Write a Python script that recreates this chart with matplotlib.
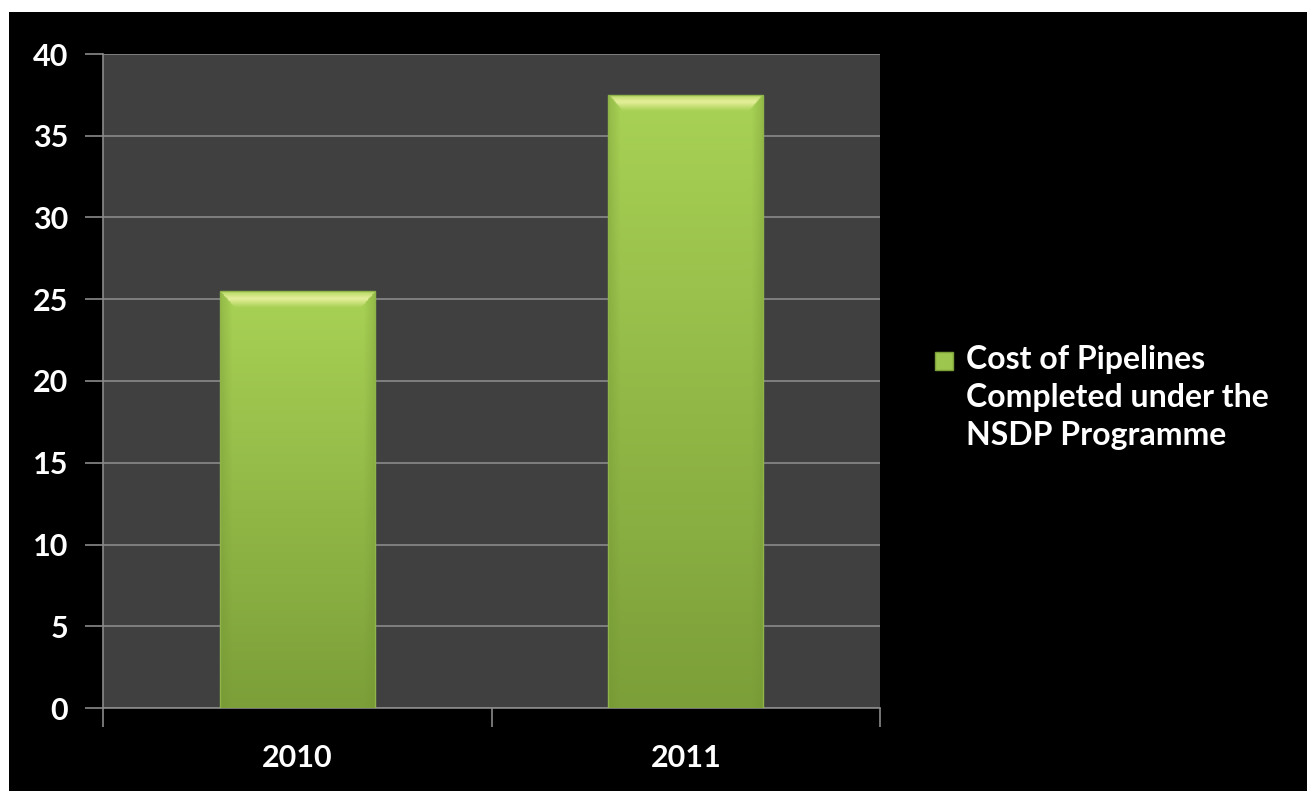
import numpy as np
import matplotlib.pyplot as plt
from matplotlib.patches import Rectangle
from matplotlib.colors import to_rgb

# data
years = ['2010', '2011']
cost = [25.5, 37.5]
legend_label = 'Cost of Pipelines\nCompleted under the\nNSDP Programme'
yticks = [0, 5, 10, 15, 20, 25, 30, 35, 40]

plt.rcParams['font.family'] = ['Lato', 'DejaVu Sans']
plt.rcParams['font.weight'] = 'bold'

W, H = 1307, 791
fig = plt.figure(figsize=(W / 100, H / 100), dpi=100, facecolor='black')

# white border at top/left like the original screenshot
fig.patches.append(Rectangle((0, 1 - 12 / H), 1, 12 / H, transform=fig.transFigure,
                             facecolor='white', edgecolor='none', zorder=-5))
fig.patches.append(Rectangle((0, 0), 9 / W, 1, transform=fig.transFigure,
                             facecolor='white', edgecolor='none', zorder=-5))

ax = fig.add_axes([103 / W, 1 - 708 / H, (880 - 103) / W, (708 - 54) / H])
ax.set_facecolor('#404040')

x = np.arange(len(years))
bar_w = 0.4
bars = ax.bar(x, cost, width=bar_w, color='none', edgecolor='none', zorder=3)

# gradient fill with bevel, clipped to each bar
top_c = np.array(to_rgb('#a8d255'))
bot_c = np.array(to_rgb('#7c9f39'))
hi_c = np.array(to_rgb('#f2f5a8'))
edge_c = np.array(to_rgb('#6f9130'))
px_per_unit = (708 - 54) / 40
bar_px_w = bar_w * (880 - 103) / 2
for b, v in zip(bars, cost):
    hp = v * px_per_unit
    ny, nx = 400, 120
    yy = np.linspace(1, 0, ny)[:, None] * np.ones((1, nx))   # 1 at top
    xx = np.ones((ny, 1)) * np.linspace(0, 1, nx)[None, :]
    img = bot_c + (top_c - bot_c) * yy[..., None]
    # top bevel highlight (triangle-cornered band)
    dtop = (1 - yy) * hp
    dside = np.minimum(xx, 1 - xx) * bar_px_w
    band = (dtop < 16) & (dside > dtop * 0.9)
    prof = np.clip(1 - np.abs(dtop - 7) / 9, 0, 1)
    img = img + (hi_c - img) * (0.85 * prof * band)[..., None]
    # side darkening
    sd = np.clip(1 - dside / 12, 0, 1)
    img = img + (edge_c - img) * (0.35 * sd * ~band)[..., None]
    img = np.clip(img, 0, 1)
    x0 = b.get_x()
    im = ax.imshow(img, extent=[x0, x0 + bar_w, 0, v], aspect='auto', zorder=3,
                   interpolation='bilinear')
    im.set_clip_path(b)
    ax.add_patch(Rectangle((x0, 0), bar_w, v, facecolor='none',
                           edgecolor='#8fb44a', linewidth=1, zorder=4))

ax.set_aspect('auto')
ax.set_xlim(-0.5, len(years) - 0.5)
ax.set_ylim(0, 40)

ax.set_yticks(yticks)
ax.yaxis.grid(True, color='#8a8a8a', linewidth=1.2)
ax.set_axisbelow(True)
ax.set_xticks([-0.5, 0.5, 1.5], minor=False)
ax.set_xticklabels([])
ax.set_xticks(x, minor=True)
ax.set_xticklabels(years, minor=True)
ax.tick_params(axis='x', which='major', direction='out', length=14, width=1.2,
               color='#8a8a8a')
ax.tick_params(axis='x', which='minor', length=0, pad=26, labelsize=22,
               labelcolor='white')
ax.tick_params(axis='y', direction='out', length=13, width=1.2, color='#8a8a8a',
               pad=12, labelsize=22, labelcolor='white')
for s in ['top', 'right']:
    ax.spines[s].set_visible(False)
for s in ['left', 'bottom']:
    ax.spines[s].set_color('#8a8a8a')
    ax.spines[s].set_linewidth(1.2)
ax.spines['left'].set_zorder(5)

# legend drawn in figure pixels
fig.patches.append(Rectangle((935 / W, 1 - 370 / H), 18 / W, 18 / H,
                             transform=fig.transFigure, facecolor='#9cc64e',
                             edgecolor='#7c9f39', linewidth=1))
fig.text(966 / W, 1 - 345 / H, legend_label, color='white', fontsize=23,
         fontweight='bold', va='top', ha='left', linespacing=1.38)

fig.savefig('out.png', dpi=100, facecolor='black')
